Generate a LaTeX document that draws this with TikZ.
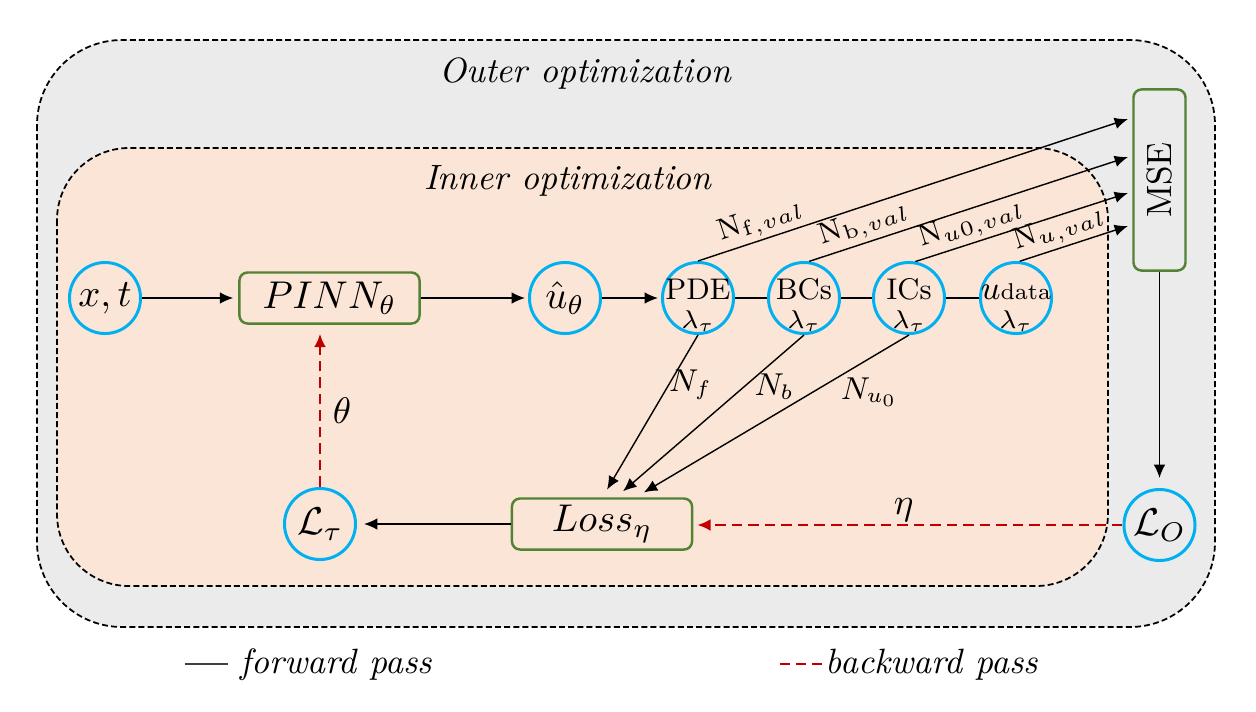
\RequirePackage{fix-cm}
\documentclass[tikz,border=0pt]{standalone}
\usetikzlibrary{arrows.meta,calc}
\definecolor{outerg}{HTML}{EBEBEB}
\definecolor{innerp}{HTML}{FBE5D6}
\definecolor{cyanc}{HTML}{00B0F0}
\definecolor{greenc}{HTML}{548235}
\definecolor{redc}{HTML}{C00000}
\definecolor{legg}{HTML}{404040}
\tikzset{
  circ/.style={circle, draw=cyanc, line width=0.85pt, minimum size=0.71cm, inner sep=0pt,
    font=\fontsize{11}{13}\selectfont},
  gbox/.style={draw=greenc, line width=0.7pt, rounded corners=2.3pt, inner sep=0pt,
    font=\fontsize{11}{13}\selectfont},
  arr/.style={-{Latex[length=3.8pt,width=3.3pt]}, line width=0.4pt},
  back/.style={-{Latex[length=3.8pt,width=3.4pt]}, draw=redc, line width=0.7pt,
    dash pattern=on 3pt off 1.7pt},
  frame/.style={draw=black, line width=0.5pt, dash pattern=on 1.7pt off 0.9pt},
  vlab/.style={sloped, above, inner sep=1pt, font=\fontsize{8.5}{10}\selectfont},
  nlab/.style={font=\fontsize{9}{10}\selectfont, inner sep=0pt},
  ttl/.style={font=\fontsize{10}{12}\selectfont\itshape, inner sep=0pt},
}
\newcommand{\twoline}[1]{\makebox[0pt]{\raisebox{-8.6pt}[0pt][0pt]{\shortstack{#1}}}}
\newcommand{\lamt}{{\fontsize{7.3}{8}\selectfont$\lambda_\tau$}}
\begin{document}
\begin{tikzpicture}[x=0.01cm,y=-0.01cm]
\useasboundingbox (0,0) rectangle (1256,711);
% frames
\draw[frame, fill=outerg, rounded corners=0.85cm] (37,40) rectangle (1215,627);
\draw[frame, fill=innerp, rounded corners=0.72cm] (57,148) rectangle (1108,586);
\node[ttl] (outer) at (585,74) {Outer optimization};
\node[ttl] (inner) at (568,181) {Inner optimization};
% nodes
\node[circ] (xt) at (105,298) {$x,t$};
\node[gbox, minimum width=1.80cm, minimum height=0.51cm] (pinn) at (329.5,298) {$PINN_\theta$};
\node[circ] (uh) at (565,298) {$\hat u_\theta$};
\node[circ, font=\fontsize{8.5}{9}\selectfont] (pde) at (698,298) {\twoline{PDE\\\lamt}};
\node[circ, font=\fontsize{8.5}{9}\selectfont] (bcs) at (804,298) {\twoline{BCs\\\lamt}};
\node[circ, font=\fontsize{8.5}{9}\selectfont] (ics) at (909,298) {\twoline{ICs\\\lamt}};
\node[circ, font=\fontsize{8.5}{9}\selectfont] (ud) at (1016,298)
  {\twoline{{\fontsize{9.5}{10}\selectfont$u$}{\fontsize{6.5}{7}\selectfont data}\\\lamt}};
\node[circ] (lt) at (320,524) {$\mathcal{L}_\tau$};
\node[gbox, minimum width=1.80cm, minimum height=0.51cm] (loss) at (602,524) {$Loss_\eta$};
\node[circ] (lo) at (1159.5,525) {$\mathcal{L}_O$};
\node[gbox, minimum width=0.52cm, minimum height=1.81cm, font=\fontsize{10}{12}\selectfont] (mse) at (1159.5,180) {\rotatebox{90}{MSE}};
% coordinates
\coordinate (m1) at (1128,119);
\coordinate (m2) at (1128,157);
\coordinate (m3) at (1128,193);
\coordinate (m4) at (1128,226);
\coordinate (l1) at (603,496.5);
\coordinate (l2) at (617,496.5);
\coordinate (l3) at (637,496.5);
% forward chain
\draw[arr, shorten >=0.05cm] (xt) -- (pinn);
\draw[arr, shorten >=0.03cm] (pinn) -- (uh);
\draw[arr, shorten >=0.03cm] (uh) -- (pde);
\draw[line width=0.4pt] (pde) -- (bcs);
\draw[line width=0.4pt] (bcs) -- (ics);
\draw[line width=0.4pt] (ics) -- (ud);
% validation arrows
\draw[arr] (pde.north) -- node[vlab, pos=0.16] {$\mathrm{N}_{\mathrm{f},val}$} (m1);
\draw[arr] (bcs.82) -- node[vlab, pos=0.19] {$\mathrm{N}_{\mathrm{b},val}$} (m2);
\draw[arr] (ics.80) -- node[vlab, pos=0.29] {$\mathrm{N}_{u0,val}$} (m3);
\draw[arr] (ud.84) -- node[vlab, pos=0.42] {$\mathrm{N}_{u,val}$} (m4);
% to loss
\draw[arr, shorten >=0.08cm] (pde.south) -- node[nlab, pos=0.31, xshift=22*0.01cm] {$N_f$} (l1);
\draw[arr, shorten >=0.08cm] (bcs.south) -- node[nlab, pos=0.32, xshift=30*0.01cm] {$N_b$} (l2);
\draw[arr, shorten >=0.08cm] (ics.south) -- node[nlab, pos=0.355, xshift=57*0.01cm] {$N_{u_0}$} (l3);
% outer
\draw[arr, shorten >=0.1cm] (mse) -- (lo);
\draw[back, shorten >=0.04cm] (lo.west) -- node[pos=0.51, above=0.5pt, font=\fontsize{10.5}{12}\selectfont, inner sep=0pt] {$\eta$} (lo.west -| loss.east);
\draw[arr, shorten >=0.07cm] (loss) -- (lt);
\draw[back, shorten >=0.09cm] (lt.north) -- node[pos=0.47, right=3.3pt, font=\fontsize{10.5}{12}\selectfont, inner sep=0pt] {$\theta$} (lt.north |- pinn.south);
% legend
\coordinate (fa) at (185,664);
\coordinate (fb) at (228,664);
\coordinate (ba) at (780,664);
\coordinate (bb) at (822,664);
\draw[legg, line width=0.5pt] (fa) -- (fb);
\draw[redc, line width=0.7pt, dash pattern=on 2.9pt off 1.6pt] (ba) -- (bb);
\node[ttl, anchor=base west] (fwd) at (240,673) {forward pass};
\node[ttl, anchor=base west] (bwd) at (825,673) {backward pass};
\end{tikzpicture}
\end{document}
